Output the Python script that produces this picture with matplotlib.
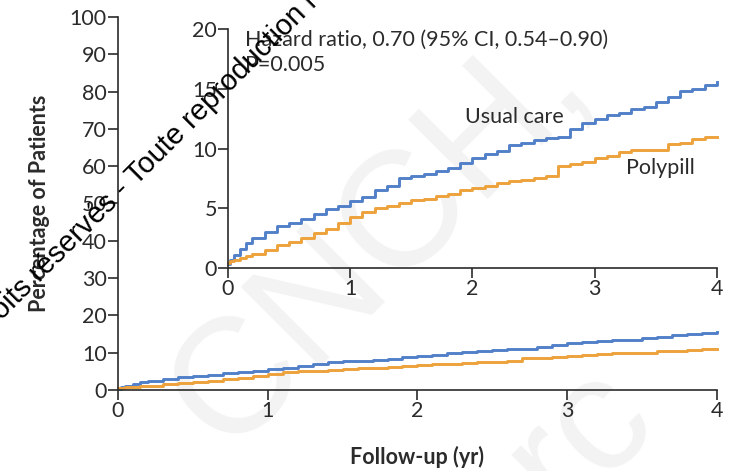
import matplotlib
matplotlib.use('Agg')
import matplotlib.pyplot as plt

# follow-up time (yr) and cumulative % with events
years = [0, 0.02, 0.05, 0.1, 0.15, 0.2, 0.3, 0.4, 0.5, 0.6, 0.7, 0.8, 0.9, 1.0,
         1.1, 1.2, 1.3, 1.4, 1.5, 1.6, 1.7, 1.8, 1.9, 2.0, 2.1, 2.2, 2.3, 2.4,
         2.5, 2.6, 2.7, 2.8, 2.9, 3.0, 3.1, 3.2, 3.3, 3.4, 3.5, 3.6, 3.7, 3.8,
         3.9, 4.0]
usual_care = [0.3, 0.7, 1.1, 1.6, 2.1, 2.5, 3.0, 3.5, 3.8, 4.1, 4.5, 4.9, 5.2,
              5.6, 5.9, 6.5, 6.9, 7.5, 7.7, 7.9, 8.1, 8.4, 8.8, 9.2, 9.5, 9.8,
              10.3, 10.5, 10.7, 10.9, 11.0, 11.6, 12.1, 12.5, 12.8, 13.0, 13.3,
              13.5, 13.9, 14.3, 14.8, 15.0, 15.3, 15.6]
polypill = [0.4, 0.6, 0.7, 0.8, 1.0, 1.2, 1.5, 1.9, 2.2, 2.5, 2.9, 3.3, 3.8,
            4.3, 4.7, 5.0, 5.2, 5.4, 5.7, 5.8, 6.0, 6.2, 6.5, 6.7, 6.9, 7.1,
            7.3, 7.4, 7.5, 7.7, 8.5, 8.7, 8.9, 9.2, 9.4, 9.7, 9.9, 9.9, 9.9,
            10.4, 10.5, 10.8, 11.0, 11.0]

x_ticks = [0, 1, 2, 3, 4]
main_y_ticks = [0, 10, 20, 30, 40, 50, 60, 70, 80, 90, 100]
inset_y_ticks = [0, 5, 10, 15, 20]

blue = '#5280c8'
orange = '#eda23c'
dark = '#2b2b2b'
fs = 15.5

plt.rcParams['font.family'] = ['Lato', 'DejaVu Sans']

fig = plt.figure(figsize=(7.44, 4.71), dpi=100)

# faint background watermark
fig.text(0.51, 0.49, 'CNCH,', fontsize=118, color='#f3f3f3', rotation=45,
         ha='center', va='center', family='Liberation Sans', zorder=-5)
fig.text(0.78, 0.07, 'rc', fontsize=118, color='#f3f3f3', rotation=45,
         ha='center', va='center', family='Liberation Sans', zorder=-5)


def style(ax, yticks, ylim):
    ax.set_facecolor('none')
    for s in ['top', 'right']:
        ax.spines[s].set_visible(False)
    for s in ['left', 'bottom']:
        ax.spines[s].set_color(dark)
        ax.spines[s].set_linewidth(1.2)
    ax.set_xlim(0, 4)
    ax.set_ylim(*ylim)
    ax.set_xticks(x_ticks)
    ax.set_yticks(yticks)
    ax.tick_params(direction='out', length=7, width=1.2, color=dark,
                   labelsize=fs, labelcolor=dark, pad=1)


# main panel
ax = fig.add_axes([0.1586, 0.172, 0.805, 0.792])
style(ax, main_y_ticks, (0, 100))
ax.plot(years, usual_care, drawstyle='steps-post', color=blue, lw=2.1, clip_on=False)
ax.plot(years, polypill, drawstyle='steps-post', color=orange, lw=2.1, clip_on=False)
ax.set_xlabel('Follow-up (yr)', fontsize=fs, fontweight='bold', color=dark, labelpad=18)
ax.set_ylabel('Percentage of Patients', fontsize=fs, fontweight='bold', color=dark, labelpad=14)

# inset zoom
ins = fig.add_axes([0.3065, 0.431, 0.657, 0.5074])
style(ins, inset_y_ticks, (0, 20))
ins.plot(years, usual_care, drawstyle='steps-post', color=blue, lw=2.1, clip_on=False)
ins.plot(years, polypill, drawstyle='steps-post', color=orange, lw=2.1, clip_on=False)
ins.text(0.14, 19.9, 'Hazard ratio, 0.70 (95% CI, 0.54\u20130.90)\nP=0.005',
         fontsize=fs, color=dark, va='top', ha='left', linespacing=1.3)
ins.text(2.34, 12.6, 'Usual care', fontsize=fs, color=dark, ha='center', va='center')
ins.text(3.54, 8.4, 'Polypill', fontsize=fs, color=dark, ha='center', va='center')

# black copyright watermark on top (only the part visible in the frame)
fig.text(0.0027, 0.3185, 'oits r\u00e9serv\u00e9s - Toute reproduction i',
         fontsize=21, color='black', rotation=45, rotation_mode='anchor',
         ha='left', va='baseline', family='Liberation Sans', zorder=10)

plt.savefig('out.png', dpi=100)
